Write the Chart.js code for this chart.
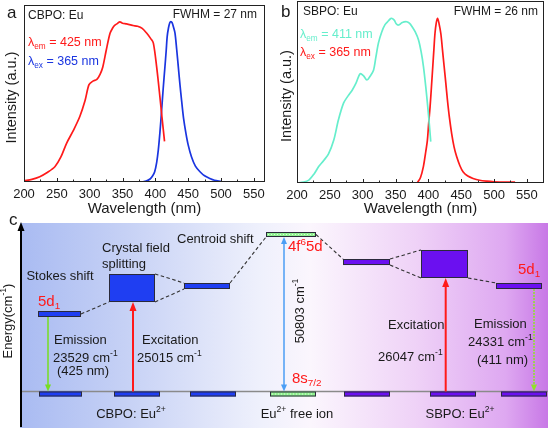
<!DOCTYPE html>
<html><head><meta charset="utf-8">
<script src="https://cdn.jsdelivr.net/npm/chart.js@4.4.1/dist/chart.umd.min.js"></script>
<style>
html,body{margin:0;padding:0;background:#fff;width:550px;height:431px;overflow:hidden}
canvas{position:absolute}
#ca{left:0;top:0;width:275px;height:218px}
#cb{left:275px;top:0;width:275px;height:218px}
#cc{left:0;top:215px;width:550px;height:216px}
</style></head><body>
<canvas id="ca" width="275" height="218"></canvas>
<canvas id="cb" width="275" height="218"></canvas>
<canvas id="cc" width="550" height="216"></canvas>
<script>
// ---------- DATA ----------
const wlTicks = [200, 250, 300, 350, 400, 450, 500, 550];

// Panel a: CBPO:Eu  (excitation, λem = 425 nm) and (emission, λex = 365 nm)
const aExcX = [200,212,224,236,247,256,265,275,285,293,299,305,311,316,320,325,331,335,338,342,346,350,356,362,366,373,380,387,393,397,402,407,410,414];
const aExcY = [0.007,0.015,0.03,0.055,0.086,0.14,0.22,0.29,0.37,0.46,0.55,0.57,0.58,0.61,0.65,0.74,0.84,0.87,0.885,0.895,0.905,0.897,0.893,0.888,0.884,0.88,0.868,0.84,0.81,0.785,0.65,0.48,0.37,0.23];
const aEmX = [379,386,392,396,399,402,404.5,407,409.6,412,414.6,416.5,418,420,422,423.7,425.5,428,430,432.5,435,437.5,440,443,446.6,450,455,461,468,475,483,490,500];
const aEmY = [0,0.005,0.017,0.035,0.058,0.11,0.18,0.28,0.407,0.53,0.65,0.74,0.82,0.87,0.9,0.906,0.9,0.87,0.84,0.75,0.65,0.55,0.46,0.36,0.275,0.21,0.143,0.09,0.058,0.035,0.02,0.01,0.004];

// Panel b: SBPO:Eu  (excitation, λem = 411 nm) and (emission, λex = 365 nm)
const bExcX = [200,210,218,226,233,241,248,256,263,271,278,284,290,296,301,306.5,311,316.5,320,324,329,334,339,343.4,348,351,354.5,359.5,363,367,371,375,380,385,389,392.5,396,399,401.5,403.6];
const bExcY = [0,0.005,0.016,0.05,0.09,0.125,0.16,0.236,0.346,0.44,0.48,0.51,0.55,0.60,0.59,0.566,0.585,0.62,0.69,0.77,0.83,0.87,0.89,0.905,0.895,0.875,0.868,0.88,0.885,0.886,0.878,0.86,0.83,0.786,0.72,0.64,0.53,0.42,0.32,0.227];
const bEmX = [383,388,392.4,395.5,398.5,400.5,402.6,404.7,406.7,408.5,410,412,414,416,419,421.5,424,426.5,429,432,435.5,439,443,448,453,460,468,478,489,500,515,532];
const bEmY = [0,0.03,0.09,0.16,0.236,0.33,0.42,0.53,0.64,0.74,0.82,0.88,0.905,0.88,0.82,0.73,0.64,0.55,0.456,0.36,0.27,0.2,0.145,0.095,0.06,0.038,0.025,0.015,0.01,0.007,0.005,0.005];

// Panel c: energy level diagram (relative level heights, cm-1 scale)
const levelNames = ['CBPO 5d1','CBPO crystal field','CBPO centroid','Eu2+ 4f65d','SBPO centroid','SBPO crystal field','SBPO 5d1'];
const levelLow  = [25080, 28960, 34140, 50803, 41900, 36730, 34140];
const levelHigh = [25080, 38020, 34140, 50803, 41900, 45790, 34140];
const groundEnergy = 0;
const transitionValues = [23529, 25015, 50803, 26047, 24331];

// ---------- STYLE / LAYOUT ----------
const FONT = '"Liberation Sans", Arial, Helvetica, sans-serif';
const TXT = '#1a1a1a';
const RED = '#ff1a1a', BLUE = '#1a35e0', CYAN = '#66eecc';

function rich(ctx, parts, x, y, align, size, color) {
  ctx.save();
  ctx.textBaseline = 'middle';
  ctx.textAlign = 'left';
  const items = parts.map(p => {
    const kind = p[1] || '';
    const s = kind ? size * 0.66 : size;
    ctx.font = s + 'px ' + FONT;
    return {t: p[0], kind, s, w: ctx.measureText(p[0]).width, c: p[2] || color};
  });
  const total = items.reduce((a, b) => a + b.w, 0);
  let cx = align === 'center' ? x - total / 2 : (align === 'right' ? x - total : x);
  for (const it of items) {
    ctx.font = it.s + 'px ' + FONT;
    ctx.fillStyle = it.c;
    const dy = it.kind === 'sup' ? -size * 0.33 : (it.kind === 'sub' ? size * 0.28 : 0);
    ctx.fillText(it.t, cx, y + dy);
    cx += it.w;
  }
  ctx.restore();
}

function framePlugin(cfg) {
  return {
    id: 'frame',
    afterDraw(chart) {
      const {ctx, chartArea: ca, scales: {x}} = chart;
      ctx.save();
      ctx.strokeStyle = '#222';
      ctx.lineWidth = 1;
      ctx.strokeRect(ca.left + 0.5, ca.top + 0.5, ca.right - ca.left - 1, ca.bottom - ca.top - 1);
      ctx.beginPath();
      for (let v = 200; v <= x.max; v += 25) {
        const px = Math.round(x.getPixelForValue(v)) + 0.5;
        const len = v % 50 === 0 ? 4 : 2.5;
        ctx.moveTo(px, ca.bottom);
        ctx.lineTo(px, ca.bottom - len);
      }
      ctx.stroke();
      ctx.restore();
      cfg.texts(ctx);
    }
  };
}

function spectrumChart(id, cfg) {
  return new Chart(document.getElementById(id), {
    type: 'line',
    data: {
      datasets: cfg.series.map(s => ({
        data: s.x.map((x, i) => ({x, y: s.y[i]})),
        borderColor: s.color, borderWidth: 1.7, pointRadius: 0, tension: 0.3, fill: false
      }))
    },
    options: {
      responsive: false, animation: false, devicePixelRatio: 1,
      layout: {padding: {left: 0, right: cfg.padRight, top: cfg.padTop, bottom: 0}},
      plugins: {legend: {display: false}, tooltip: {enabled: false}},
      scales: {
        x: {
          type: 'linear', min: 200, max: cfg.xMax,
          afterBuildTicks: sc => { sc.ticks = wlTicks.map(v => ({value: v})); },
          afterFit: sc => { sc.height = cfg.axisH; },
          grid: {display: false, drawTicks: false}, border: {display: false},
          ticks: {padding: 5, color: TXT, autoSkip: false, maxRotation: 0, font: {family: FONT, size: 13}},
          title: {display: true, text: 'Wavelength (nm)', color: TXT, font: {family: FONT, size: 15}, padding: 0}
        },
        y: {
          type: 'linear', min: 0, max: 1,
          afterFit: sc => { sc.width = cfg.axisW; },
          grid: {display: false, drawTicks: false}, border: {display: false},
          ticks: {display: false},
          title: {display: true, text: 'Intensity (a.u.)  ', color: TXT, font: {family: FONT, size: 14.5}, padding: {top: 3, bottom: 0}}
        }
      }
    },
    plugins: [framePlugin(cfg)]
  });
}

spectrumChart('ca', {
  xMax: 567, padRight: 10, padTop: 5, axisH: 36, axisW: 24,
  series: [{x: aExcX, y: aExcY, color: RED}, {x: aEmX, y: aEmY, color: BLUE}],
  texts(ctx) {
    ctx.save();
    ctx.fillStyle = TXT; ctx.font = '17px ' + FONT; ctx.textBaseline = 'alphabetic';
    ctx.fillText('a', 7, 18);
    ctx.restore();
    rich(ctx, [['CBPO: Eu']], 28, 16, 'left', 12, TXT);
    rich(ctx, [['FWHM = 27 nm']], 257, 15, 'right', 12, TXT);
    rich(ctx, [['λ'], ['em', 'sub'], [' = 425 nm']], 28, 43, 'left', 12.5, RED);
    rich(ctx, [['λ'], ['ex', 'sub'], [' = 365 nm']], 28, 62, 'left', 12.5, BLUE);
  }
});

spectrumChart('cb', {
  xMax: 576, padRight: 6, padTop: 1, axisH: 35, axisW: 22,
  series: [{x: bExcX, y: bExcY, color: CYAN}, {x: bEmX, y: bEmY, color: RED}],
  texts(ctx) {
    ctx.save();
    ctx.fillStyle = TXT; ctx.font = '17px ' + FONT; ctx.textBaseline = 'alphabetic';
    ctx.fillText('b', 6, 17);
    ctx.restore();
    rich(ctx, [['SBPO: Eu']], 28, 12, 'left', 12, TXT);
    rich(ctx, [['FWHM = 26 nm']], 263, 12, 'right', 12, TXT);
    rich(ctx, [['λ'], ['em', 'sub'], [' = 411 nm']], 25, 35, 'left', 12.5, CYAN);
    rich(ctx, [['λ'], ['ex', 'sub'], [' = 365 nm']], 25, 53, 'left', 12.5, RED);
  }
});

// ---------- Panel c ----------
const LC = {
  levelX: [[38,81],[109,155],[184,230],[266,316],[343,390],[421,468],[496,542]],
  groundX: [[39,82],[114,160],[190,236],[270,316],[344,390],[430,476],[501,547]],
  group: [0,0,0,1,2,2,2],
  fill: ['#1f3ef2', '#8ff08f', '#6b10f0'],
  thinH: [6,6,6,5,6,6,6],
  groundH: 5,
  connectors: [[0,'mid',1,'bottom'],[1,'top',2,'top'],[1,'bottom',2,'bottom'],[2,'top',3,'bottom'],
               [3,'mid',4,'top'],[4,'top',5,'top'],[4,'bottom',5,'bottom'],[5,'bottom',6,'top']],
  // [x, fromLevel(-1 = ground), toLevel, color, width, heads, dash]
  arrows: [[48, 0, -1, '#77dd22', 1.5, 'end', []], [133, -1, 1, RED, 2, 'end', []], [284, -1, 3, '#4b9ef5', 1.5, 'both', []],
           [445.7, -1, 5, RED, 2, 'end', []], [534, 6, -1, '#8fe22a', 1.5, 'end', [2, 1]]]
};

const diagramPlugin = {
  id: 'diagram',
  afterDraw(chart) {
    const {ctx} = chart;
    const X = v => chart.scales.x.getPixelForValue(v);
    const Y = v => chart.scales.y.getPixelForValue(v);
    // background
    const g = ctx.createLinearGradient(20, 0, 548, 0);
    g.addColorStop(0, '#a9bbf2');
    g.addColorStop(0.2, '#c6d1f5');
    g.addColorStop(0.45, '#eef0fc');
    g.addColorStop(0.55, '#fbf6fd');
    g.addColorStop(0.75, '#efd2f7');
    g.addColorStop(0.92, '#dea8f1');
    g.addColorStop(1, '#c878e6');
    ctx.fillStyle = g;
    ctx.fillRect(20, 8, 528, 205);
    // baseline
    const y0 = Y(groundEnergy);
    ctx.strokeStyle = '#8a8a8a'; ctx.lineWidth = 1.5;
    ctx.beginPath(); ctx.moveTo(21, y0); ctx.lineTo(548, y0); ctx.stroke();
    // energy axis arrow
    ctx.strokeStyle = '#000'; ctx.fillStyle = '#000'; ctx.lineWidth = 2;
    ctx.beginPath(); ctx.moveTo(21, 212); ctx.lineTo(21, 14); ctx.stroke();
    ctx.beginPath(); ctx.moveTo(21, 7); ctx.lineTo(17.5, 16); ctx.lineTo(24.5, 16); ctx.closePath(); ctx.fill();

    const top = i => levelHigh[i] === levelLow[i] ? Y(levelHigh[i]) - LC.thinH[i] / 2 : Y(levelHigh[i]);
    const bot = i => levelHigh[i] === levelLow[i] ? Y(levelLow[i]) + LC.thinH[i] / 2 : Y(levelLow[i]);
    const mid = i => (top(i) + bot(i)) / 2;
    const yAt = (i, w) => w === 'top' ? top(i) : (w === 'bottom' ? bot(i) : mid(i));
    // dashed connectors
    ctx.save();
    ctx.setLineDash([3.5, 2.5]); ctx.strokeStyle = '#333'; ctx.lineWidth = 1.1;
    for (const [a, wa, b, wb] of LC.connectors) {
      ctx.beginPath();
      ctx.moveTo(X(LC.levelX[a][1]), yAt(a, wa));
      ctx.lineTo(X(LC.levelX[b][0]), yAt(b, wb));
      ctx.stroke();
    }
    ctx.restore();
    // ground bars
    ctx.lineWidth = 1; ctx.strokeStyle = '#2a2a3a';
    LC.groundX.forEach((gx, i) => {
      const x1 = X(gx[0]), x2 = X(gx[1]);
      ctx.fillStyle = LC.fill[LC.group[i]];
      ctx.fillRect(x1, y0, x2 - x1, LC.groundH);
      ctx.strokeRect(x1 + 0.5, y0 + 0.5, x2 - x1 - 1, LC.groundH - 1);
      if (LC.group[i] === 1) {
        ctx.save(); ctx.setLineDash([1, 2]); ctx.strokeStyle = '#d8ffd8';
        ctx.beginPath(); ctx.moveTo(x1 + 2, y0 + 2.5); ctx.lineTo(x2 - 2, y0 + 2.5); ctx.stroke(); ctx.restore();
      }
    });
    // upper levels
    levelLow.forEach((_, i) => {
      const x1 = X(LC.levelX[i][0]), x2 = X(LC.levelX[i][1]);
      const t = top(i), b = bot(i);
      ctx.fillStyle = LC.fill[LC.group[i]];
      ctx.fillRect(x1, t, x2 - x1, b - t);
      ctx.strokeStyle = '#2a2a3a';
      ctx.strokeRect(x1 + 0.5, t + 0.5, x2 - x1 - 1, b - t - 1);
      if (LC.group[i] === 1) {
        ctx.save(); ctx.setLineDash([1, 2]); ctx.strokeStyle = '#d8ffd8';
        ctx.beginPath(); ctx.moveTo(x1 + 2, (t + b) / 2); ctx.lineTo(x2 - 2, (t + b) / 2); ctx.stroke(); ctx.restore();
      }
    });
    // transition arrows
    for (const [ax, from, to, col, w, heads, dash] of LC.arrows) {
      const px = X(ax);
      const yf = from < 0 ? y0 : bot(from);
      const yt = to < 0 ? y0 : bot(to);
      const hl = w >= 2 ? 9 : 7, hw = w >= 2 ? 3.5 : 3;
      ctx.strokeStyle = col; ctx.fillStyle = col; ctx.lineWidth = w;
      const dir = Math.sign(yt - yf);
      const s0 = heads === 'both' ? yf + dir * (hl - 1) : yf;
      ctx.save(); ctx.setLineDash(dash);
      ctx.beginPath(); ctx.moveTo(px, s0); ctx.lineTo(px, yt - dir * (hl - 1)); ctx.stroke();
      ctx.restore();
      const head = (yy, d) => {
        ctx.beginPath(); ctx.moveTo(px, yy); ctx.lineTo(px - hw, yy - d * hl); ctx.lineTo(px + hw, yy - d * hl); ctx.closePath(); ctx.fill();
      };
      head(yt, dir);
      if (heads === 'both') head(yf, -dir);
    }
    // texts
    const T = (parts, x, y, align, size, color) => rich(ctx, parts, x, y, align || 'left', size || 13, color || TXT);
    ctx.save(); ctx.fillStyle = TXT; ctx.font = '17px ' + FONT; ctx.textBaseline = 'alphabetic';
    ctx.fillText('c', 9, 10); ctx.restore();
    T([['Stokes shift']], 60, 61, 'center');
    T([['Crystal field']], 102, 33);
    T([['splitting']], 102, 49);
    T([['Centroid shift']], 177, 24);
    T([['5d'], ['1', 'sub']], 38, 87, 'left', 15, RED);
    T([['Emission']], 54, 125);
    T([[String(transitionValues[0]) + ' cm'], ['-1', 'sup']], 53, 143);
    T([['(425 nm)']], 57, 156);
    T([['Excitation']], 142, 125);
    T([[String(transitionValues[1]) + ' cm'], ['-1', 'sup']], 137, 143);
    T([['CBPO: Eu'], ['2+', 'sup']], 131, 199, 'center');
    T([['Eu'], ['2+', 'sup'], [' free ion']], 297, 199, 'center');
    T([['4f'], ['6', 'sup'], ['5d']], 288, 32, 'left', 15, RED);
    ctx.save(); ctx.translate(300, 96); ctx.rotate(-Math.PI / 2);
    T([[String(transitionValues[2]) + ' cm'], ['-1', 'sup']], 0, 0, 'center');
    ctx.restore();
    T([['8s'], ['7/2', 'sub']], 292, 164, 'left', 15, RED);
    T([['Excitation']], 388, 110);
    T([[String(transitionValues[3]) + ' cm'], ['-1', 'sup']], 378, 142);
    T([['Emission']], 474, 109);
    T([[String(transitionValues[4]) + ' cm'], ['-1', 'sup']], 468, 127);
    T([['(411 nm)']], 477, 145);
    T([['5d'], ['1', 'sub']], 518, 55, 'left', 15, RED);
    T([['SBPO: Eu'], ['2+', 'sup']], 460, 199, 'center');
    ctx.save(); ctx.translate(8, 106); ctx.rotate(-Math.PI / 2);
    T([['Energy(cm'], ['-1', 'sup'], [')']], 0, 0, 'center');
    ctx.restore();
  }
};

new Chart(document.getElementById('cc'), {
  type: 'scatter',
  data: {datasets: [{data: levelLow.map((e, i) => ({x: (LC.levelX[i][0] + LC.levelX[i][1]) / 2, y: e})), pointRadius: 0, showLine: false}]},
  options: {
    responsive: false, animation: false, devicePixelRatio: 1,
    layout: {padding: 0},
    plugins: {legend: {display: false}, tooltip: {enabled: false}},
    scales: {
      x: {type: 'linear', min: 0, max: 550, display: false},
      y: {type: 'linear', min: -12782, max: 57115, display: false}
    }
  },
  plugins: [diagramPlugin]
});
</script></body></html>
